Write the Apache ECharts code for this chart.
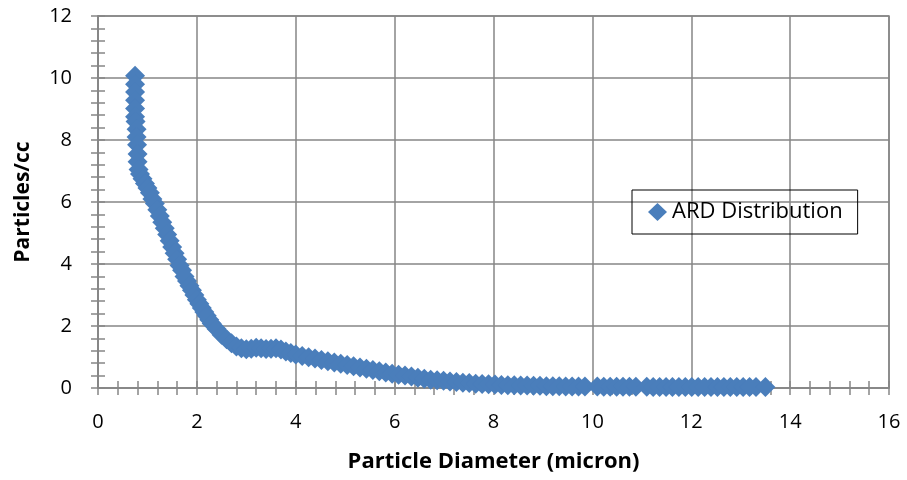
<!DOCTYPE html>
<html>
<head>
<meta charset="utf-8">
<script src="https://cdn.jsdelivr.net/npm/echarts@6/dist/echarts.min.js"></script>
<style>
  html, body { margin: 0; padding: 0; background: #fff; }
  #chart { width: 907px; height: 480px; }
</style>
</head>
<body>
<div id="chart"></div>
<script>
var seriesName = 'ARD Distribution';
var xTitle = 'Particle Diameter (micron)';
var yTitle = 'Particles/cc';

// diameter (micron)
var diameter = [
  0.75, 0.75, 0.75, 0.75, 0.75, 0.75, 0.76, 0.78, 0.78, 0.79, 0.80, 0.80, 0.82, 0.85, 0.90, 0.95,
  1.00, 1.05, 1.10, 1.15, 1.20, 1.25, 1.30, 1.35, 1.40, 1.45, 1.50, 1.55, 1.60, 1.65, 1.70, 1.75,
  1.80, 1.85, 1.90, 1.95, 2.00, 2.05, 2.10, 2.15, 2.20, 2.25, 2.30, 2.40, 2.50, 2.60, 2.70, 2.80,
  2.90, 3.00, 3.10, 3.20, 3.30, 3.40, 3.50, 3.60, 3.70, 3.80, 3.90, 4.00, 4.13, 4.26, 4.39, 4.52,
  4.65, 4.78, 4.91, 5.04, 5.17, 5.30, 5.43, 5.56, 5.69, 5.82, 5.95, 6.08, 6.21, 6.34, 6.47, 6.60,
  6.73, 6.86, 6.99, 7.12, 7.25, 7.38, 7.51, 7.64, 7.77, 7.90, 8.03, 8.16, 8.29, 8.42, 8.55, 8.68,
  8.81, 8.94, 9.07, 9.20, 9.33, 9.46, 9.59, 9.72, 9.85, 10.10, 10.23, 10.36, 10.49, 10.62, 10.75, 10.88,
  11.10, 11.23, 11.36, 11.49, 11.62, 11.75, 11.88, 12.01, 12.14, 12.27, 12.40, 12.53, 12.66, 12.79, 12.92, 13.05,
  13.18, 13.31, 13.50
];
// particles per cc
var particles = [
  10.07, 9.80, 9.55, 9.28, 9.02, 8.75, 8.60, 8.35, 8.10, 7.85, 7.55, 7.30, 7.05, 6.90, 6.75, 6.60,
  6.45, 6.30, 6.10, 5.95, 5.75, 5.55, 5.35, 5.15, 4.95, 4.75, 4.55, 4.35, 4.15, 3.95, 3.80, 3.60,
  3.45, 3.30, 3.15, 3.00, 2.85, 2.72, 2.58, 2.45, 2.33, 2.20, 2.08, 1.90, 1.72, 1.57, 1.44, 1.34,
  1.28, 1.25, 1.27, 1.30, 1.28, 1.26, 1.27, 1.28, 1.24, 1.18, 1.13, 1.08, 1.03, 0.99, 0.95, 0.90,
  0.86, 0.82, 0.78, 0.74, 0.70, 0.66, 0.62, 0.58, 0.54, 0.50, 0.46, 0.43, 0.40, 0.37, 0.33, 0.30,
  0.27, 0.25, 0.23, 0.21, 0.19, 0.17, 0.16, 0.14, 0.13, 0.12, 0.11, 0.10, 0.09, 0.09, 0.08, 0.08,
  0.07, 0.07, 0.06, 0.06, 0.06, 0.05, 0.05, 0.05, 0.05, 0.05, 0.04, 0.04, 0.04, 0.04, 0.04, 0.04,
  0.04, 0.03, 0.03, 0.03, 0.03, 0.03, 0.03, 0.03, 0.03, 0.03, 0.03, 0.03, 0.03, 0.03, 0.03, 0.03,
  0.03, 0.03, 0.03
];

var points = diameter.map(function (d, i) { return [d, particles[i]]; });

var chart = echarts.init(document.getElementById('chart'));
var gray = '#868686';
var font = 'Open Sans, Liberation Sans, sans-serif';

var baseAxis = {
  axisLine: { show: true, onZero: false, lineStyle: { color: gray, width: 1.5 } },
  axisTick: { show: true, length: 7, lineStyle: { color: gray, width: 1.5 } },
  minorTick: { show: true, splitNumber: 5, length: 7, lineStyle: { color: gray, width: 1.5 } },
  splitLine: { show: true, lineStyle: { color: gray, width: 1.5 } }
};
// overlapping twin axes only to draw the inner half of the minor ticks
var twinAxis = {
  axisLine: { show: false },
  axisTick: { show: true, inside: true, length: 7, lineStyle: { color: gray, width: 1.5 } },
  minorTick: { show: true, splitNumber: 5, length: 7, lineStyle: { color: gray, width: 1.5 } },
  splitLine: { show: false },
  axisLabel: { show: false }
};

var option = {
  animation: false,
  backgroundColor: '#fff',
  grid: {
    left: 98, right: 18, top: 16, bottom: 92,
    show: true, borderColor: gray, borderWidth: 1.5
  },
  legend: {
    data: [seriesName],
    left: 632, top: 190,
    padding: [11, 15, 11, 16],
    borderColor: '#000', borderWidth: 1,
    icon: 'diamond', itemWidth: 19, itemHeight: 18, itemGap: 6,
    textStyle: { color: '#000', fontSize: 22, fontFamily: font }
  },
  xAxis: [
    Object.assign({}, baseAxis, {
      type: 'value', min: 0, max: 16, interval: 2,
      name: xTitle, nameLocation: 'middle', nameGap: 63,
      nameTextStyle: { color: '#000', fontSize: 22, fontWeight: 'bold', fontFamily: font },
      axisLabel: { color: '#000', fontSize: 20, fontFamily: font, margin: 24 }
    }),
    Object.assign({}, twinAxis, { type: 'value', min: 0, max: 16, interval: 2, position: 'bottom' })
  ],
  yAxis: [
    Object.assign({}, baseAxis, {
      type: 'value', min: 0, max: 12, interval: 2,
      name: yTitle, nameLocation: 'middle', nameGap: 64,
      nameTextStyle: { color: '#000', fontSize: 21, fontWeight: 'bold', fontFamily: font },
      axisLabel: { color: '#000', fontSize: 20, fontFamily: font, margin: 26 }
    }),
    Object.assign({}, twinAxis, { type: 'value', min: 0, max: 12, interval: 2, position: 'left', offset: 0 })
  ],
  series: [{
    name: seriesName,
    type: 'scatter',
    xAxisIndex: 0,
    yAxisIndex: 0,
    symbol: 'diamond',
    symbolSize: 20,
    itemStyle: { color: '#4A7EBB', opacity: 1 },
    data: points
  }]
};

chart.setOption(option);
</script>
</body>
</html>
